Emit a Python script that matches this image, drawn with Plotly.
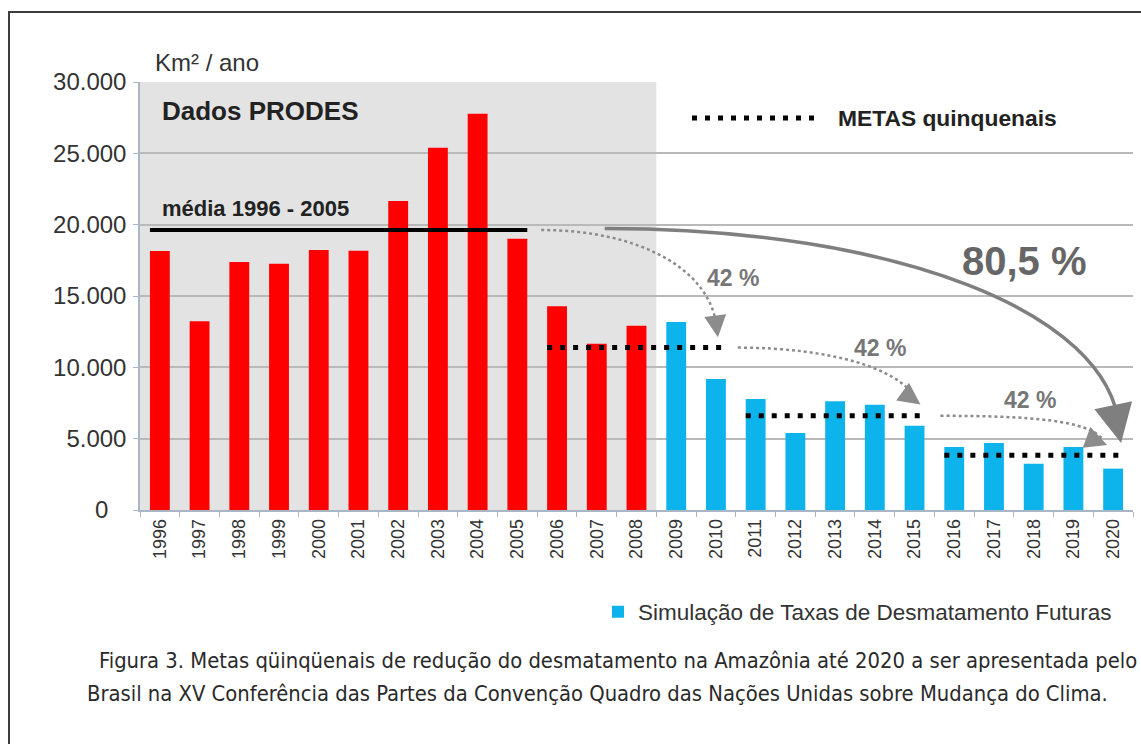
import plotly.graph_objects as go

# ---------------- data ----------------
years_hist = [1996, 1997, 1998, 1999, 2000, 2001, 2002, 2003, 2004, 2005, 2006, 2007, 2008]
area_hist = [18161, 13227, 17383, 17259, 18226, 18165, 21651, 25396, 27772, 19014, 14286, 11651, 12911]
years_sim = [2009, 2010, 2011, 2012, 2013, 2014, 2015, 2016, 2017, 2018, 2019, 2020]
area_sim = [13180, 9180, 7780, 5400, 7620, 7380, 5910, 4420, 4700, 3250, 4420, 2900]
mean_period = (1996, 2005)
mean_value = 19625
meta_periods = [(2006, 2010), (2011, 2015), (2016, 2020)]
meta_values = [11383, 6602, 3829]
y_tick_vals = [0, 5000, 10000, 15000, 20000, 25000, 30000]
y_tick_text = ["0\u2007\u2009", "5.000", "10.000", "15.000", "20.000", "25.000", "30.000"]
all_years = years_hist + years_sim

# ---------------- layout geometry (pixels) ----------------
W, H = 1141, 744
L, R, T, B = 140, 8, 82, 234
PW, PH = W - L - R, H - T - B


def px(x):
    return (x - L) / PW


def py(y):
    return (H - B - y) / PH


FONT = "Liberation Sans, Arial, sans-serif"
CAPFONT = "Liberation Sans Narrow, DejaVu Sans Condensed, Arial Narrow, sans-serif"
TXT = "#333333"
AXC = "#a9b6c6"

fig = go.Figure()
fig.add_trace(go.Bar(x=years_hist, y=area_hist, width=0.5, marker=dict(color="#ff0000", line_width=0),
                     name="Dados PRODES", showlegend=False))
fig.add_trace(go.Bar(x=years_sim, y=area_sim, width=0.5, marker=dict(color="#0db4ec", line_width=0),
                     name="Simulação de Taxas de Desmatamento Futuras", showlegend=True))

shapes = []
# grey background for PRODES data
shapes.append(dict(type="rect", xref="x", yref="y", x0=years_hist[0] - 0.5, x1=years_hist[-1] + 0.5,
                   y0=0, y1=30000, fillcolor="#e3e3e3", line_width=0, layer="below"))
# mean line
shapes.append(dict(type="line", xref="x", yref="y", x0=mean_period[0] - 0.25, x1=mean_period[1] + 0.25,
                   y0=mean_value, y1=mean_value, line=dict(color="black", width=4)))
# meta lines
for (a, b), v in zip(meta_periods, meta_values):
    shapes.append(dict(type="line", xref="x", yref="y", x0=a - 0.25, x1=b + 0.25, y0=v, y1=v,
                       line=dict(color="black", width=5, dash="5px,8px")))

# dotted curved arrows (42 %)
dot_style = dict(color="#8c8c8c", width=2.5, dash="dot")
curves = [
    "M 2005.6,{m} C 2008.0,{m} 2009.9,17000 2010.03,12600",
    "M 2010.55,{a} C 2012.9,{a} 2014.6,9900 2015.0,7900",
    "M 2015.65,{b} C 2017.9,{b} 2019.4,6300 2019.75,4900",
]
shapes.append(dict(type="path", xref="x", yref="y",
                   path=curves[0].format(m=mean_value), line=dot_style))
shapes.append(dict(type="path", xref="x", yref="y",
                   path=curves[1].format(a=meta_values[0]), line=dot_style))
shapes.append(dict(type="path", xref="x", yref="y",
                   path=curves[2].format(b=meta_values[1]), line=dot_style))
# big solid arrow (80,5 %)
shapes.append(dict(type="path", xref="x", yref="y",
                   path="M 2007.2,{m} C 2014.6,{m} 2019.9,13800 2020.15,5800".format(m=mean_value + 100),
                   line=dict(color="#7f7f7f", width=3.5)))

# legend "METAS quinquenais"
shapes.append(dict(type="line", xref="paper", yref="paper", x0=px(692), x1=px(820), y0=py(118), y1=py(118),
                   line=dict(color="black", width=5, dash="5px,8px")))
# outer frame
shapes.append(dict(type="rect", xref="paper", yref="paper", x0=px(9), x1=px(1180), y0=py(780), y1=py(12),
                   line=dict(color="#3c3c3c", width=2), fillcolor="rgba(0,0,0,0)", layer="above"))

ann = []
# arrowheads
heads = [
    (2010.05, 12100, -2, -16, "#8c8c8c", 2, 2.2),
    (2015.15, 7400, -14, -10, "#8c8c8c", 2, 2.2),
    (2019.85, 4550, -16, -6, "#8c8c8c", 2, 2.2),
    (2020.2, 4700, -5, -24, "#7f7f7f", 3.5, 2.2),
]
for x, y, ax, ay, c, w, s in heads:
    ann.append(dict(x=x, y=y, xref="x", yref="y", ax=ax, ay=ay, text="", showarrow=True,
                    arrowhead=2, arrowsize=s, arrowwidth=w, arrowcolor=c))

ann += [
    dict(x=px(153), y=py(62), xref="paper", yref="paper", text="Km² / ano", showarrow=False,
         xanchor="left", yanchor="middle", font=dict(family=FONT, size=24, color=TXT)),
    dict(x=px(160), y=py(111), xref="paper", yref="paper", text="<b>Dados PRODES</b>", showarrow=False,
         xanchor="left", yanchor="middle", font=dict(family=FONT, size=26, color="#222")),
    dict(x=px(160), y=py(208), xref="paper", yref="paper", text="<b>média 1996 - 2005</b>", showarrow=False,
         xanchor="left", yanchor="middle", font=dict(family=FONT, size=22, color="#222")),
    dict(x=px(836), y=py(118), xref="paper", yref="paper", text="<b>METAS quinquenais</b>", showarrow=False,
         xanchor="left", yanchor="middle", font=dict(family=FONT, size=22.8, color="#222")),
    dict(x=px(1024), y=py(261), xref="paper", yref="paper", text="<b>80,5 %</b>", showarrow=False,
         xanchor="center", yanchor="middle", font=dict(family=FONT, size=40, color="#666")),
    dict(x=px(733), y=py(278), xref="paper", yref="paper", text="<b>42 %</b>", showarrow=False,
         xanchor="center", yanchor="middle", font=dict(family=FONT, size=23, color="#777")),
    dict(x=px(880), y=py(348), xref="paper", yref="paper", text="<b>42 %</b>", showarrow=False,
         xanchor="center", yanchor="middle", font=dict(family=FONT, size=23, color="#777")),
    dict(x=px(1030), y=py(400), xref="paper", yref="paper", text="<b>42 %</b>", showarrow=False,
         xanchor="center", yanchor="middle", font=dict(family=FONT, size=23, color="#777")),
    dict(x=px(97), y=py(660), xref="paper", yref="paper",
         text="Figura 3. Metas qüinqüenais de redução do desmatamento na Amazônia até 2020 a ser apresentada pelo",
         showarrow=False, xanchor="left", yanchor="middle",
         font=dict(family=CAPFONT, size=21.8, color="#2a2a2a")),
    dict(x=px(85), y=py(693), xref="paper", yref="paper",
         text="Brasil na XV Conferência das Partes da Convenção Quadro das Nações Unidas sobre Mudança do Clima.",
         showarrow=False, xanchor="left", yanchor="middle",
         font=dict(family=CAPFONT, size=21.8, color="#2a2a2a")),
]

fig.update_layout(
    width=W, height=H, autosize=False,
    margin=dict(l=L, r=R, t=T, b=B, pad=0),
    paper_bgcolor="white", plot_bgcolor="white",
    font=dict(family=FONT, color=TXT),
    shapes=shapes, annotations=ann,
    bargap=0.5,
    legend=dict(x=px(598), y=py(612), xanchor="left", yanchor="middle", bgcolor="rgba(0,0,0,0)",
                font=dict(family=FONT, size=22.5, color=TXT)),
    xaxis=dict(range=[1995.5, 2020.5], tickmode="array", tickvals=all_years,
               ticktext=[str(y) for y in all_years], tickangle=-90, ticks="",
               tickfont=dict(family=FONT, size=18, color=TXT), showgrid=False, zeroline=False,
               showline=True, linecolor=AXC, linewidth=1.5,
               minor=dict(tickmode="array", tickvals=[y - 0.5 for y in all_years] + [all_years[-1] + 0.5],
                          ticks="outside", ticklen=5, tickcolor=AXC, tickwidth=1, showgrid=False)),
    yaxis=dict(range=[0, 30000], tickmode="array", tickvals=y_tick_vals, ticktext=y_tick_text,
               tickfont=dict(family=FONT, size=24, color=TXT), showgrid=True, gridcolor="#b9b9b9",
               gridwidth=1.5, zeroline=False, showline=True, linecolor=AXC, linewidth=1.5,
               ticks="outside", ticklen=5, tickcolor=AXC, ticklabelstandoff=2),
)

fig.write_html("out.html", config={"displayModeBar": False},
               post_script="document.body.style.margin='0px';document.body.style.padding='0px';")
